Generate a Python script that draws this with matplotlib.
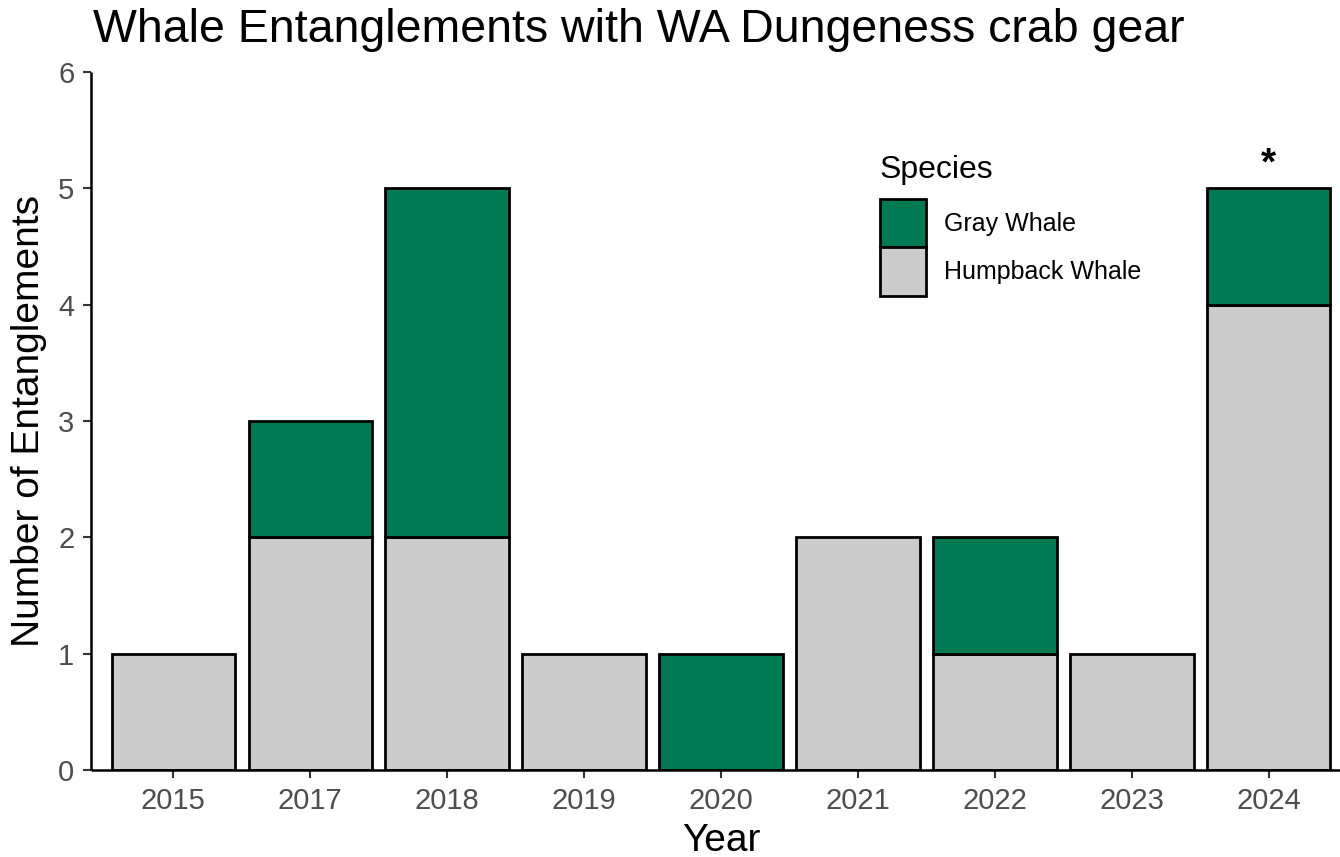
import matplotlib.pyplot as plt
from matplotlib.patches import Patch
import numpy as np

years = ["2015", "2017", "2018", "2019", "2020", "2021", "2022", "2023", "2024"]
humpback = [1, 2, 2, 1, 0, 2, 1, 1, 4]
gray_whale = [0, 1, 3, 0, 1, 0, 1, 0, 1]

GREEN = "#007a53"
LIGHT = "#cbcccb"

plt.rcParams['font.family'] = ['Liberation Sans', 'DejaVu Sans']

fig = plt.figure(figsize=(13.4, 8.57), dpi=100)
ax = fig.add_axes([91 / 1340, 87 / 857, 1260 / 1340, 698 / 857])

x = np.arange(len(years))
hb = np.array(humpback)
gw = np.array(gray_whale)

# humpback at the bottom, gray whale stacked on top
mask = hb > 0
ax.bar(x[mask], hb[mask], width=0.9, color=LIGHT, edgecolor="black", linewidth=2.0, zorder=2)
mask = gw > 0
ax.bar(x[mask], gw[mask], bottom=hb[mask], width=0.9, color=GREEN, edgecolor="black", linewidth=2.0, zorder=2)

# asterisk over the last year
ax.text(x[-1], hb[-1] + gw[-1] + 0.05, "*", ha="center", va="bottom",
        fontsize=28, fontweight="bold")

ax.set_xlim(-0.6, len(years) - 0.4)
ax.set_ylim(0, 6)
ax.set_xticks(x)
ax.set_xticklabels(years)
ax.set_yticks(range(7))

for s in ["top", "right"]:
    ax.spines[s].set_visible(False)
for s in ["left", "bottom"]:
    ax.spines[s].set_linewidth(1.8)
    ax.spines[s].set_capstyle("butt")

ax.tick_params(axis="both", labelsize=21, colors="#333333", labelcolor="#4d4d4d",
               length=6, width=1.5, pad=6)

ax.set_xlabel("Year", fontsize=28, labelpad=6)
ax.set_ylabel("Number of Entanglements", fontsize=28, labelpad=8)
fig.text(93 / 1340, 1 - 30 / 857, "Whale Entanglements with WA Dungeness crab gear",
         fontsize=33.5, ha="left", va="center")

# legend: title as separate text so the gap can be set
fig.text(880 / 1340, 1 - 170 / 857, "Species", fontsize=23, ha="left", va="center")
handles = [Patch(facecolor=GREEN, edgecolor="black", linewidth=2.0, label="Gray Whale"),
           Patch(facecolor=LIGHT, edgecolor="black", linewidth=2.0, label="Humpback Whale")]
leg = ax.legend(handles=handles, loc="upper left",
                bbox_to_anchor=(880 / 1340, 1 - 199 / 857), bbox_transform=fig.transFigure,
                frameon=False, fontsize=18, handlelength=1.85,
                handleheight=2.6, handletextpad=0.7, labelspacing=0.0,
                borderaxespad=0, borderpad=0)

fig.savefig("out.png", dpi=100)
